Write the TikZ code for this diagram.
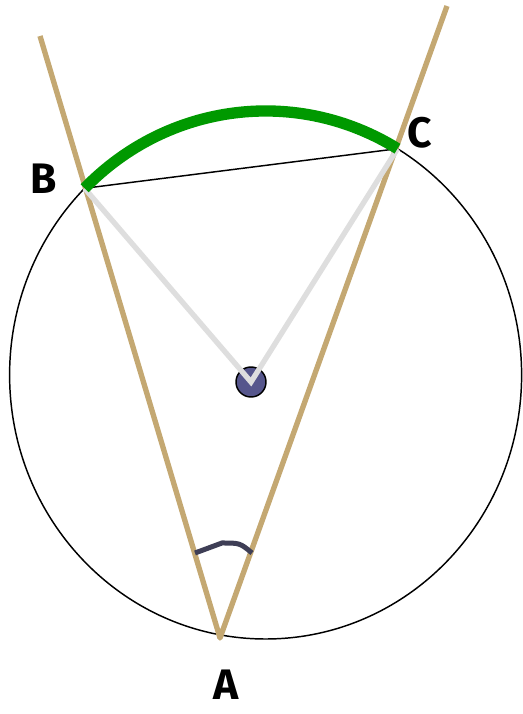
\documentclass[tikz,border=0pt]{standalone}
\usepackage{fontspec}
\setmainfont{Fira Sans}
\usepackage{xcolor}
\usepackage{tikz}

\definecolor{tanline}{RGB}{196,168,114}
\definecolor{arcgreen}{RGB}{0,153,0}
\definecolor{raygray}{RGB}{222,222,222}
\definecolor{dotblue}{RGB}{86,86,140}
\definecolor{markgray}{RGB}{62,62,86}

\tikzset{
  ptlabel/.style={font=\fontsize{32}{35}\selectfont\bfseries, inner sep=0pt}
}

\begin{document}
\begin{tikzpicture}[x=0.75pt, y=0.75pt]
		\useasboundingbox (0,0) rectangle (522,714);

		% 点
		\coordinate (E) at (265.6,339);
		\coordinate (O) at (251,332);
		\coordinate (A) at (220,76);
		\coordinate (B) at (84.6,525.7);
		\coordinate (C) at (397.5,565.3);
		\coordinate (Ltop) at (40,678);
		\coordinate (Rtop) at (447,708);

		% 圆
		\draw[line width=1.1pt] (E) ellipse [x radius=256, y radius=264];

		% 弦
		\draw[line width=1.1pt] (B) -- (C);

		% 圆心
		\filldraw[fill=dotblue, draw=black, line width=1.1pt] (O) circle (15);

		% 两条射线
		\draw[tanline, line width=4pt, line join=round] (Ltop) -- (A) -- (Rtop);

		% 半径
		\draw[raygray, line width=4pt] (B) -- (O) -- (C);

		% 弧
		\draw[arcgreen, line width=8.5pt] (B) arc[start angle=135, end angle=59, x radius=256, y radius=264];

		% 角标记
		\draw[markgray, line width=3.75pt] (195,161) -- (222,171) .. controls (240,171) .. (252,161);

		% 标注
		\node[ptlabel] (labB) at (43.5,535.5) {B};
		\node[ptlabel] (labC) at (420,581.5) {C};
		\node[ptlabel] (labA) at (226,29) {A};
	\end{tikzpicture}
\end{document}
